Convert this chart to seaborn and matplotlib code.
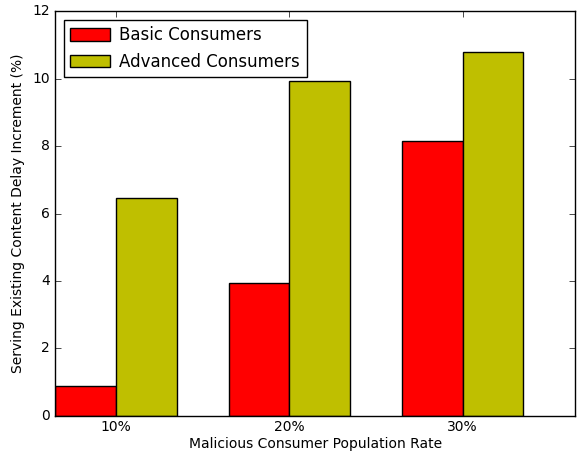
import pandas as pd
import seaborn as sns
import matplotlib
matplotlib.use("Agg")
import matplotlib.pyplot as plt

plt.style.use("classic")

rates = ["10%", "20%", "30%"]
basic = [0.88, 3.93, 8.15]
advanced = [6.47, 9.93, 10.80]
groups = ["Basic Consumers", "Advanced Consumers"]

df = pd.DataFrame({
    "rate": rates * 2,
    "value": basic + advanced,
    "group": [groups[0]] * 3 + [groups[1]] * 3,
})

fig, ax = plt.subplots(figsize=(5.81, 4.55), dpi=100)
sns.barplot(data=df, x="rate", y="value", hue="group", hue_order=groups,
            palette=["#ff0000", "#bfbf00"], width=0.7, saturation=1,
            edgecolor="black", linewidth=1, ax=ax, errorbar=None)

ax.set_xlim(-0.35, 2.65)
ax.set_ylim(0, 12)
ax.set_xlabel("Malicious Consumer Population Rate", fontsize=10, labelpad=2)
ax.set_ylabel("Serving Existing Content Delay Increment (%)", fontsize=10)
ax.tick_params(labelsize=10)
ax.tick_params(axis="x", pad=3)
ax.legend(loc="upper left", fontsize=12, frameon=True,
          handlelength=2.4, handleheight=0.8, handletextpad=0.55)

fig.subplots_adjust(left=0.095, right=0.99, top=0.975, bottom=0.086)
fig.savefig("out.png", dpi=100)
